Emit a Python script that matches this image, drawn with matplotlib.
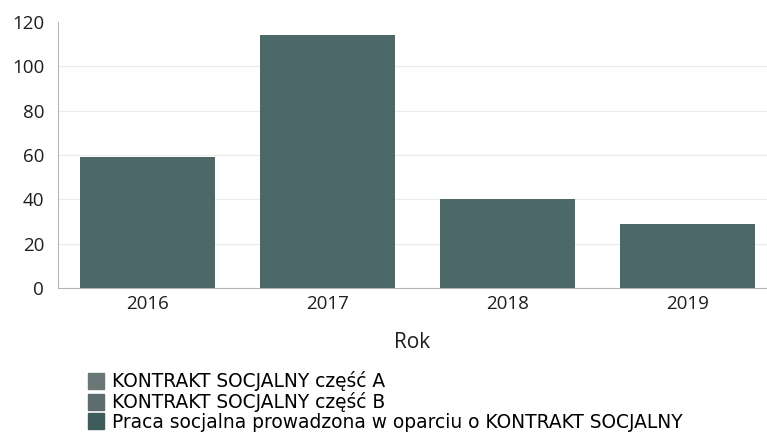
import matplotlib
matplotlib.use("Agg")
import matplotlib.pyplot as plt
import numpy as np

plt.rcParams["font.family"] = ["Open Sans", "DejaVu Sans"]

# Data. The three series cannot be told apart in
# the scan, so the visible totals are kept in the first series.
years = ["2016", "2017", "2018", "2019"]
part_a = [59, 114, 40, 29]
part_b = [0, 0, 0, 0]
contract_work = [0, 0, 0, 0]
series_labels = ["KONTRAKT SOCJALNY część A",
                 "KONTRAKT SOCJALNY część B",
                 "Praca socjalna prowadzona w oparciu o KONTRAKT SOCJALNY"]
series_colors = ["#4d6868", "#4a6565", "#3f5b5b"]
legend_colors = ["#6b7676", "#5d6d6d", "#3f5c5c"]
y_ticks = [0, 20, 40, 60, 80, 100, 120]

fig = plt.figure(figsize=(7.67, 4.34), dpi=100)
ax = fig.add_axes([58 / 767, 1 - 288 / 434, 709 / 767, 266 / 434])

x = np.arange(len(years))
bottom = np.zeros(len(years))
handles = []
for values, label, color, lcolor in zip([part_a, part_b, contract_work],
                                        series_labels, series_colors,
                                        legend_colors):
    ax.bar(x, values, 0.75, bottom=bottom, color=color, label=label, zorder=3)
    bottom += np.array(values)
    handles.append(plt.Rectangle((0, 0), 1, 1, color=lcolor))

ax.set_xlim(-0.5, 3.44)
ax.set_ylim(0, 120)
ax.set_yticks(y_ticks)
ax.set_xticks(x)
ax.set_xticklabels(years)
ax.tick_params(length=0, labelsize=13.5, colors="#1e1e1e")
ax.tick_params(axis="y", pad=10)
ax.tick_params(axis="x", pad=5)
for level in y_ticks[1:-1]:
    ax.axhline(level, color="#ebebeb", linewidth=0.8, zorder=0)
for side in ["top", "right"]:
    ax.spines[side].set_visible(False)
ax.spines["left"].set_color("#b5b5b5")
ax.spines["bottom"].set_color("#b5b5b5")
ax.set_xlabel("Rok", fontsize=15, color="#1e1e1e", labelpad=14)

fig.legend(handles=handles, labels=series_labels, loc="upper left",
           bbox_to_anchor=(88 / 767, 1 - 371 / 434), frameon=False,
           prop={"family": "DejaVu Sans", "size": 13.4}, handlelength=0.85,
           handleheight=0.95, handletextpad=0.45, labelspacing=0.05,
           borderpad=0, borderaxespad=0)

fig.savefig("out.png", dpi=100)
